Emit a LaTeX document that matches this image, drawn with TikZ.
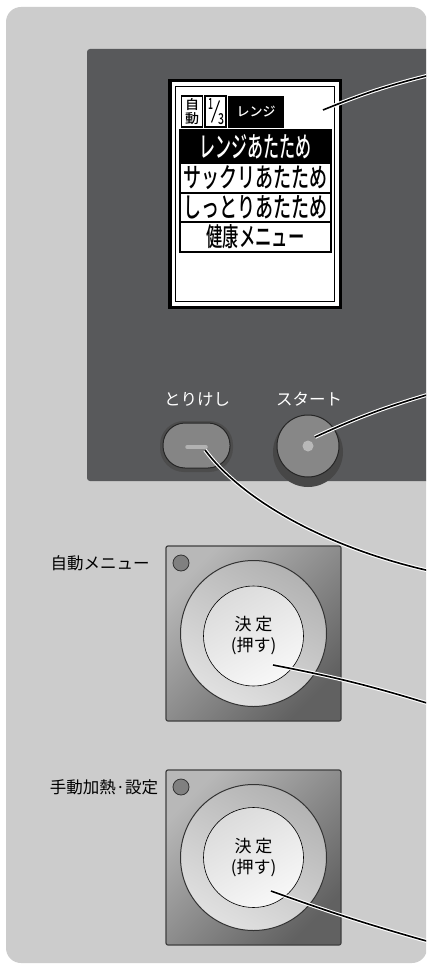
\documentclass[tikz,border=0pt]{standalone}
\usepackage{fontspec}
\usepackage{graphicx}
\newfontfamily\jp{Noto Sans CJK JP}
\newfontfamily\jpm{Noto Sans CJK JP}[UprightFont=* Medium]
\definecolor{bggray}{HTML}{CCCCCC}
\definecolor{panelgray}{HTML}{58595B}
\tikzset{
  leader/.style={line width=1.6pt, preaction={draw=white, line width=3.8pt}},
  rowbox/.style={draw=black, line width=1.6pt, minimum width=151pt, inner sep=0pt},
  tagbox/.style={draw=black, line width=1.4pt, fill=white, minimum width=21pt, minimum height=31pt, inner sep=0pt},
  tagtext/.style={font=\jpm\fontsize{11.5}{11.5}\selectfont, inner sep=0pt},
  keylabel/.style={font=\jp\fontsize{16.5}{17}\selectfont},
  keypanel/.style={draw=black!75, line width=1.2pt, rounded corners=2pt, minimum size=175pt,
    top color=black!28, bottom color=black!62, shading angle=45},
  ring/.style={circle, draw=black!80, line width=1pt, minimum size=146pt,
    top color=black!30, bottom color=black!12, shading angle=-30},
  knob/.style={circle, draw=black, line width=0.6pt, minimum size=100pt, align=center,
    top color=black!14, bottom color=black!3, shading angle=30, font=\jp\fontsize{17}{21}\selectfont},
  lamp/.style={circle, draw=black!80, line width=0.8pt, fill=black!50, minimum size=16pt}
}
\begin{document}
\begin{tikzpicture}[x=1pt,y=-1pt]
  \useasboundingbox (0,0) rectangle (426,965);
  \clip (0,0) rectangle (426,965);
  \fill[white] (0,0) rectangle (426,965);
  \fill[bggray, rounded corners=15pt] (6,7) rectangle (427,963);
  \fill[panelgray, rounded corners=3pt] (87,49) rectangle (440,481);

  % display
  \fill[black] (168,79) rectangle (342,309);
  \fill[white] (171.5,82.5) rectangle (338.5,305.5);
  \draw[line width=1.8pt, fill=white] (175.5,86.5) rectangle (334.5,301.5);
  \node (auto) [tagbox] at (192,111.5) {};
  \node (autotop) [tagtext] at (192,104.5) {\resizebox{14pt}{11pt}{自}};
  \node (autobot) [tagtext] at (192,118.5) {\resizebox{14pt}{11pt}{動}};
  \node (frac) [tagbox] at (215.5,111.5) {};
  \draw[line width=1.1pt] (frac.center) ++(-4,11) -- ++(8,-22);
  \node (fracnum) [tagtext] at (210.5,104) {\resizebox{5pt}{11pt}{1}};
  \node (fracden) [tagtext] at (221,119) {\resizebox{6pt}{11pt}{3}};
  \node (range) [fill=black, text=white, minimum width=56pt, minimum height=32pt, inner sep=0pt,
    font=\jpm\fontsize{13}{13}\selectfont] at (256,112) {レンジ};
  \node (row1) [rowbox, fill=black, text=white, minimum height=33pt] at (255.5,146.5)
    {\resizebox{112pt}{23pt}{\jpm レンジあたため}};
  \node (row2) [rowbox, fill=white, minimum height=30pt] at (255.5,178)
    {\resizebox{144pt}{22pt}{\jpm サックリあたため}};
  \node (row3) [rowbox, fill=white, minimum height=29pt] at (255.5,207.5)
    {\resizebox{144pt}{22pt}{\jpm しっとりあたため}};
  \node (row4) [rowbox, fill=white, minimum height=30pt] at (255.5,237)
    {\resizebox{98pt}{22pt}{\jpm 健康メニュー}};

  % keys on the dark panel
  \node (cancellabel) [keylabel, text=white] at (197,399) {とりけし};
  \node (startlabel) [keylabel, text=white] at (309,399) {スタート};
  \fill[black!70, rounded corners=24pt] (160,421) rectangle (233,472);
  \node (cancel) [draw=black!85, line width=1pt, fill=black!48, rounded corners=22pt,
    minimum width=67pt, minimum height=45pt] at (196.5,445.5) {};
  \draw[black!30, line width=3.5pt, line cap=round] (187,447) -- (206,447);
  \fill[black!72] (308,452) circle (35);
  \node (start) [circle, draw=black!85, line width=1pt, fill=black!47, minimum size=62pt] at (308,446) {};
  \fill[black!28] (start.center) circle (5.5);

  % dial panels
  \node (autolabel) [keylabel] at (100,563) {自動メニュー};
  \node (autopanel) [keypanel] at (253.5,633.5) {};
  \node (autolamp) [lamp] at (181,563) {};
  \node (autoring) [ring] at (253.5,633.5) {};
  \node (autoknob) [knob] at (253.5,636) {決 定\\(押す)};
  \node (manuallabel) [keylabel] at (104,787) {手動加熱·設定};
  \node (manualpanel) [keypanel] at (253.5,857.5) {};
  \node (manuallamp) [lamp] at (181,787) {};
  \node (manualring) [ring] at (253.5,857.5) {};
  \node (manualknob) [knob] at (253.5,857.5) {決 定\\(押す)};

  % leader lines
  \coordinate (e1) at (430,75);
  \coordinate (e2) at (430,394);
  \coordinate (e3) at (430,571);
  \coordinate (e4) at (430,704);
  \coordinate (e5) at (430,942);
  \draw[leader] (323,110) to[bend left=4] (e1);
  \draw[leader] (315,437) to[bend left=4] (e2);
  \draw[leader] (205,450) .. controls (240,497) and (320,546) .. (e3);
  \draw[leader] (273,665) to[bend left=3] (e4);
  \draw[leader] (271,891) to[bend right=2] (e5);
\end{tikzpicture}
\end{document}
